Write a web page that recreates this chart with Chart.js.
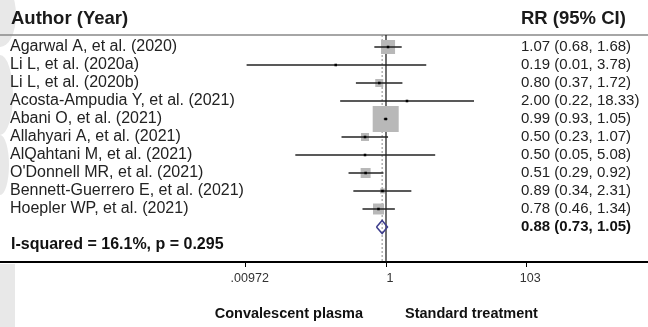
<!DOCTYPE html>
<html>
<head>
<meta charset="utf-8">
<script src="https://cdn.jsdelivr.net/npm/chart.js@4/dist/chart.umd.min.js"></script>
<style>
  html, body { margin: 0; padding: 0; background: #fff; }
  #wrap { width: 648px; height: 327px; position: relative; }
</style>
</head>
<body>
<div id="wrap"><canvas id="chart"></canvas></div>
<script>
// ===== DATA =====
const studies = [
  "Agarwal A, et al. (2020)",
  "Li L, et al. (2020a)",
  "Li L, et al. (2020b)",
  "Acosta-Ampudia Y, et al. (2021)",
  "Abani O, et al. (2021)",
  "Allahyari A, et al. (2021)",
  "AlQahtani M, et al. (2021)",
  "O'Donnell MR, et al. (2021)",
  "Bennett-Guerrero E, et al. (2021)",
  "Hoepler WP, et al. (2021)"
];
const rr    = [1.07, 0.19, 0.80, 2.00, 0.99, 0.50, 0.50, 0.51, 0.89, 0.78];
const lower = [0.68, 0.01, 0.37, 0.22, 0.93, 0.23, 0.05, 0.29, 0.34, 0.46];
const upper = [1.68, 3.78, 1.72, 18.33, 1.05, 1.07, 5.08, 0.92, 2.31, 1.34];
// study weights (%)
const weights = [15.6, 0.3, 5.1, 0.3, 53.7, 5.1, 0.3, 7.9, 2.0, 9.6];

const pooled = [0.88, 0.73, 1.05]; // RR, lower, upper
const heterogeneity = "I-squared = 16.1%, p = 0.295";

const tickValues = [0.00972, 1, 103];
const tickLabels = [".00972", "1", "103"];
const sideLabels = ["Convalescent plasma", "Standard treatment"];

// ===== LAYOUT HELPERS =====
const X_MIN = Math.pow(10, -386 / 69.7);
const X_MAX = Math.pow(10, 262 / 69.7);
const Y_MIN = -47 / 18;
const Y_MAX = (262 - 47) / 18;
const HEADER_LINE = -0.667;
const POOLED_ROW = studies.length;
const STATS_ROW = studies.length + 1;
const FONT = "'Liberation Sans', Arial, sans-serif";

const fmt = v => v.toFixed(2);
const ciText = (r, l, u) => fmt(r) + " (" + fmt(l) + ", " + fmt(u) + ")";

// CI line datasets, one per study
const ciSets = studies.map((s, i) => ({
  type: "line",
  data: [{ x: lower[i], y: i }, { x: upper[i], y: i }],
  borderColor: "#222",
  borderWidth: 1.5,
  pointRadius: 0,
  order: 3
}));

const datasets = [
  // reference line at 1
  {
    type: "line",
    data: [{ x: 1, y: HEADER_LINE }, { x: 1, y: Y_MAX }],
    borderColor: "#111",
    borderWidth: 1.2,
    pointRadius: 0,
    order: 10
  },
  // dashed line at pooled estimate
  {
    type: "line",
    data: [{ x: pooled[0], y: HEADER_LINE }, { x: pooled[0], y: Y_MAX }],
    borderColor: "#888",
    borderWidth: 1,
    borderDash: [2, 2],
    pointRadius: 0,
    order: 10
  },
  // header rule
  {
    type: "line",
    data: [{ x: X_MIN, y: HEADER_LINE }, { x: X_MAX, y: HEADER_LINE }],
    borderColor: "#888",
    borderWidth: 1.5,
    pointRadius: 0,
    order: 10
  },
  // weight boxes
  {
    type: "scatter",
    data: rr.map((v, i) => ({ x: v, y: i })),
    pointStyle: "rect",
    pointRadius: weights.map(w => 3.55 * Math.sqrt(w) / Math.SQRT2),
    backgroundColor: "#b8b8b8",
    borderWidth: 0,
    order: 5
  },
  ...ciSets,
  // point estimates
  {
    type: "scatter",
    data: rr.map((v, i) => ({ x: v, y: i })),
    pointStyle: "rect",
    pointRadius: 1.8,
    backgroundColor: "#000",
    borderWidth: 0,
    order: 1
  },
  // pooled diamond
  {
    type: "line",
    data: [
      { x: pooled[1], y: POOLED_ROW },
      { x: pooled[0], y: POOLED_ROW - 0.36 },
      { x: pooled[2], y: POOLED_ROW },
      { x: pooled[0], y: POOLED_ROW + 0.36 },
      { x: pooled[1], y: POOLED_ROW }
    ],
    borderColor: "#3c3c8c",
    borderWidth: 1.5,
    fill: false,
    pointRadius: 0,
    tension: 0,
    order: 2
  }
];

// ===== TEXT PLUGIN =====
const textPlugin = {
  id: "forestText",
  beforeDraw(chart) {
    // faint watermark on left edge
    const ctx = chart.ctx;
    ctx.save();
    ctx.fillStyle = "#e8e8e8";
    ctx.beginPath(); ctx.ellipse(0, 15, 16, 32, 0, 0, Math.PI * 2); ctx.fill();
    ctx.beginPath(); ctx.ellipse(0, 95, 13, 40, 0, 0, Math.PI * 2); ctx.fill();
    ctx.beginPath(); ctx.ellipse(0, 165, 9, 30, 0, 0, Math.PI * 2); ctx.fill();
    ctx.fillRect(0, 264, 15, 63);
    ctx.restore();
  },
  afterDatasetsDraw(chart) {
    const ctx = chart.ctx;
    const y = chart.scales.y;
    const x = chart.scales.x;
    const leftX = 10;
    const rightX = 521;
    ctx.save();
    ctx.textBaseline = "middle";
    ctx.textAlign = "left";

    ctx.fillStyle = "#1a1a1a";
    ctx.font = "bold 18.5px " + FONT;
    ctx.fillText("Author (Year)", leftX + 1, y.getPixelForValue(-1.55));
    ctx.fillText("RR (95% CI)", rightX, y.getPixelForValue(-1.55));

    ctx.fillStyle = "#222";
    studies.forEach((s, i) => {
      const py = y.getPixelForValue(i);
      ctx.font = "16px " + FONT;
      ctx.fillText(s, leftX, py);
      ctx.font = "15px " + FONT;
      ctx.fillText(ciText(rr[i], lower[i], upper[i]), rightX, py);
    });

    ctx.fillStyle = "#111";
    ctx.font = "bold 15px " + FONT;
    ctx.fillText(ciText(pooled[0], pooled[1], pooled[2]), rightX, y.getPixelForValue(POOLED_ROW));
    ctx.font = "bold 16px " + FONT;
    ctx.fillText(heterogeneity, leftX + 1, y.getPixelForValue(STATS_ROW));

    // side labels below axis
    const one = x.getPixelForValue(1);
    ctx.font = "bold 14.5px " + FONT;
    ctx.textAlign = "right";
    ctx.fillText(sideLabels[0], one - 23, 314);
    ctx.textAlign = "left";
    ctx.fillText(sideLabels[1], one + 19, 314);
    ctx.restore();
  }
};

// ===== CHART =====
new Chart(document.getElementById("chart"), {
  type: "scatter",
  data: { datasets },
  options: {
    responsive: true,
    maintainAspectRatio: false,
    animation: false,
    events: [],
    layout: { padding: 0, autoPadding: false },
    plugins: { legend: { display: false }, tooltip: { enabled: false } },
    scales: {
      x: {
        type: "logarithmic",
        min: X_MIN,
        max: X_MAX,
        afterFit(scale) { scale.height = 65; },
        afterBuildTicks(scale) {
          scale.ticks = tickValues.map(v => ({ value: v }));
        },
        ticks: {
          autoSkip: false,
          maxRotation: 0,
          padding: 4,
          labelOffset: 4,
          color: "#333",
          font: { family: FONT, size: 12.5 },
          callback(value, index) { return tickLabels[index]; }
        },
        grid: { drawOnChartArea: false, drawTicks: true, tickLength: 5, color: "#000", tickWidth: 1 },
        border: { display: true, color: "#000", width: 2 }
      },
      y: {
        type: "linear",
        display: false,
        reverse: true,
        min: Y_MIN,
        max: Y_MAX
      }
    }
  },
  plugins: [textPlugin]
});
</script>
</body>
</html>
